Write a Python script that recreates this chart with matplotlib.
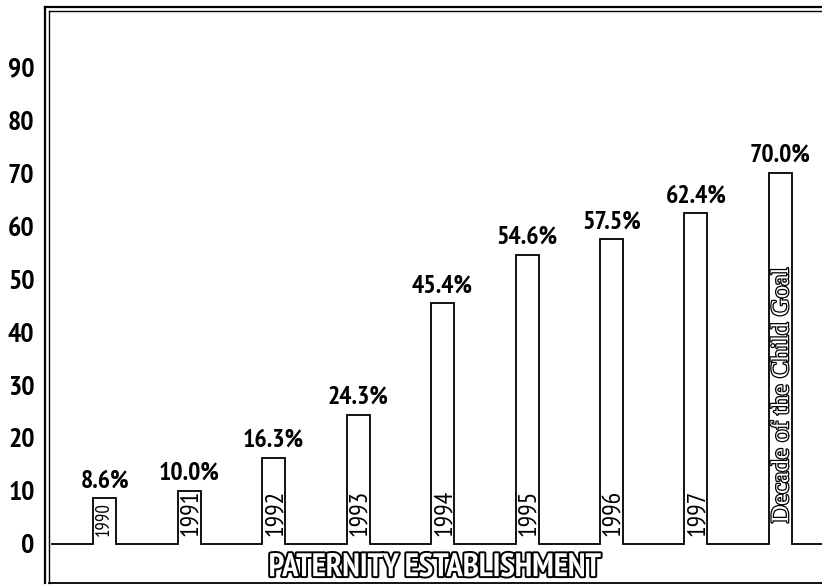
import matplotlib
matplotlib.use("Agg")
import matplotlib.pyplot as plt
import matplotlib.patheffects as pe
from matplotlib.lines import Line2D

# ---- data ----
years = ["1990", "1991", "1992", "1993", "1994", "1995", "1996", "1997"]
goal_label = "Decade of the Child Goal"
values = [8.6, 10.0, 16.3, 24.3, 45.4, 54.6, 57.5, 62.4, 70.0]
value_labels = ["8.6%", "10.0%", "16.3%", "24.3%", "45.4%", "54.6%", "57.5%", "62.4%", "70.0%"]
y_ticks = [0, 10, 20, 30, 40, 50, 60, 70, 80, 90]
title = "PATERNITY ESTABLISHMENT"

W, H = 822, 585
fig = plt.figure(figsize=(W / 100, H / 100), dpi=100)
fig.patch.set_facecolor("white")

# axes geometry in pixels
ax_left, ax_right, ax_top, ax_bot = 48.5, 830, 11, 583
ax = fig.add_axes([ax_left / W, 1 - ax_bot / H, (ax_right - ax_left) / W, (ax_bot - ax_top) / H])

x = list(range(len(values)))
bar_w = 0.272
ax.set_xlim(-0.665, 8.587)
ax.set_ylim(-7.36, 100.57)

# white bars (fill) and outline path with baseline
ax.bar(x, values, width=bar_w, color="white", linewidth=0, zorder=2)
px, py = [-0.62], [0]
for xi, v in zip(x, values):
    l, r = xi - bar_w / 2, xi + bar_w / 2
    px += [l, l, r, r]
    py += [0, v, v, 0]
px.append(9.0)
py.append(0)
ax.plot(px, py, color="black", lw=1.3, zorder=3, solid_joinstyle="miter", clip_on=False)

narrow = ["PT Sans Narrow", "DejaVu Sans"]

# value labels
for xi, v, lab in zip(x, values, value_labels):
    ax.annotate(lab, (xi, v), xytext=(0, 8), textcoords="offset points",
                ha="center", va="baseline", fontsize=18.5, fontweight="bold",
                family=narrow, zorder=4)

# year labels inside bars
for xi, yr in zip(x, years):
    fs = 13.5 if xi == 0 else 18.5
    ax.annotate(yr, (xi - bar_w / 2, 0), xytext=(1.2, 5.5), textcoords="offset points",
                rotation=90, ha="left", va="bottom", fontsize=fs,
                family=narrow, zorder=4)

# goal label inside the last bar (outlined)
ax.annotate(goal_label, (x[-1] - bar_w / 2, 0), xytext=(1.5, 15), textcoords="offset points",
            rotation=90, ha="left", va="bottom", fontsize=18, family=["Liberation Serif", "DejaVu Serif"],
            color="white", zorder=4,
            path_effects=[pe.Stroke(linewidth=1.8, foreground="black"), pe.Normal()])

# outlined title
ax.text(0.495, 0.026, title, transform=ax.transAxes, ha="center", va="center",
        fontsize=23.5, fontweight="bold", family=narrow, color="white", zorder=4,
        path_effects=[pe.Stroke(linewidth=2.8, foreground="black"), pe.Normal()])

# y axis
ax.set_yticks(y_ticks)
ax.set_yticklabels([str(t) for t in y_ticks], fontsize=20, fontweight="bold", family=narrow)
ax.tick_params(axis="y", length=0, pad=10)
ax.set_xticks([])

ax.spines["right"].set_visible(False)
ax.spines["left"].set_linewidth(1.0)
ax.spines["top"].set_linewidth(1.0)
ax.spines["bottom"].set_linewidth(1.3)

# outer frame lines (double border look)
fig.add_artist(Line2D([45 / W, 45 / W], [1 - 7 / H, 1 - 583 / H], color="black", lw=1.6))
fig.add_artist(Line2D([45 / W, 1.0], [1 - 7 / H, 1 - 7 / H], color="black", lw=1.6))

fig.savefig("out.png", dpi=100, facecolor="white")
